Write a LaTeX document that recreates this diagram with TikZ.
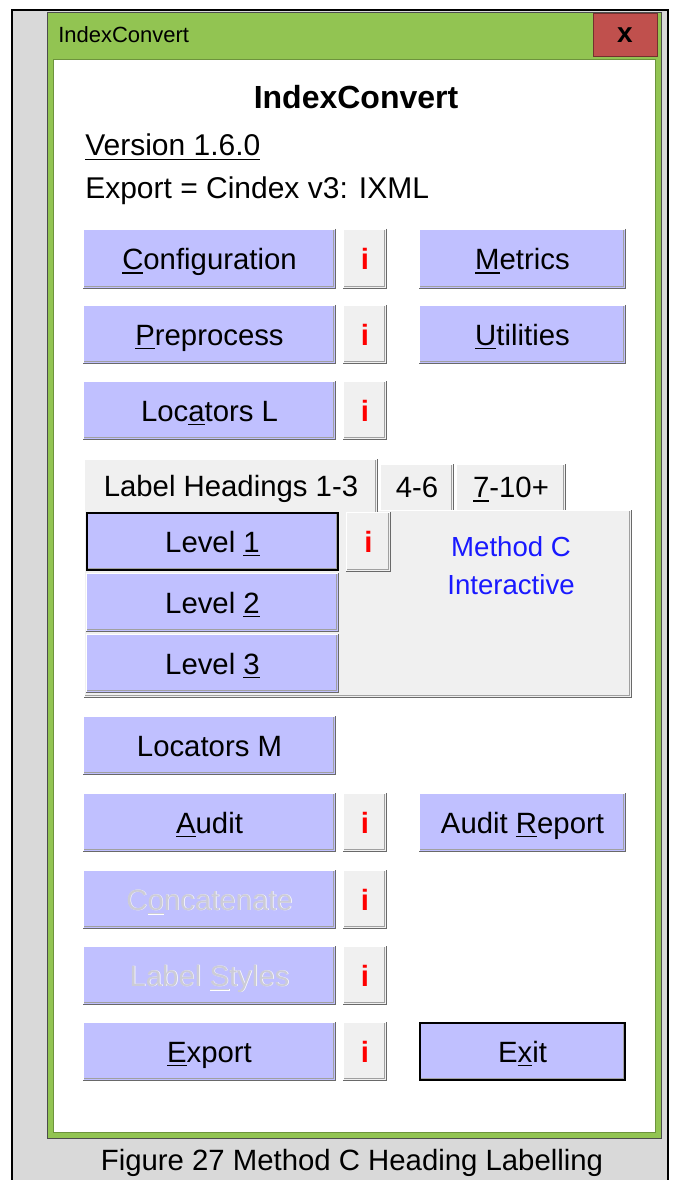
\documentclass[tikz,border=0pt]{standalone}
\usepackage{fontspec}
\setmainfont{Liberation Sans}
\definecolor{lav}{RGB}{192,192,255}
\definecolor{pan}{RGB}{240,240,240}
\definecolor{frm}{RGB}{217,217,217}
\definecolor{grn}{RGB}{146,196,82}
\definecolor{cls}{RGB}{192,80,77}
\definecolor{shd}{RGB}{105,105,105}
\definecolor{shl}{RGB}{160,160,160}
\definecolor{hil}{RGB}{255,255,255}
\definecolor{dtx}{RGB}{204,204,214}
\definecolor{mblue}{RGB}{25,25,255}
\newcommand\mn[1]{\setbox0\hbox{#1}\rlap{\rule[-3.2pt]{\wd0}{1.3pt}}#1}
\newcommand\dis[1]{\rlap{\kern0.5pt\raisebox{-0.5pt}{\color{white}#1}}{\color{dtx}#1}}
\newcommand\btnfont{\fontsize{22}{26}\selectfont}
\newcommand\bx[7]{%
 \pgfmathsetmacro\cxx{(#2+#4)/2}%
 \pgfmathsetmacro\cyy{(#3+#5)/2}%
 \pgfmathsetmacro\ww{(#4-#2)*0.75}%
 \pgfmathsetmacro\hh{(#5-#3)*0.75}%
 \node[#6,minimum width=\ww pt,minimum height=\hh pt] (#1) at (\cxx,\cyy) {#7};%
}
\newcommand\raised[1]{%
 \draw[hil,line width=0.75pt] ([shift={(0.375pt,0)}]#1.south west) -- ([shift={(0.375pt,-0.375pt)}]#1.north west) -- ([shift={(0,-0.375pt)}]#1.north east);
 \draw[shl,line width=0.75pt] ([shift={(-1.875pt,-0.75pt)}]#1.north east) -- ([shift={(-1.875pt,1.875pt)}]#1.south east) -- ([shift={(0.75pt,1.875pt)}]#1.south west);
 \draw[shd,line width=1.1pt] ([shift={(-0.55pt,0)}]#1.north east) -- ([shift={(-0.55pt,0.55pt)}]#1.south east) -- ([shift={(0,0.55pt)}]#1.south west);
}
\newcommand\defborder[1]{%
 \draw[black,line width=1.5pt] ([shift={(0.75pt,-0.75pt)}]#1.north west) rectangle ([shift={(-0.75pt,0.75pt)}]#1.south east);
}
\begin{document}
\begin{tikzpicture}[x=0.75pt,y=-0.75pt,
  btn/.style={fill=lav,inner sep=0pt,outer sep=0pt,font=\btnfont,text height=15.8pt,text depth=0pt},
  ib/.style={fill=pan,inner sep=0pt,outer sep=0pt,font=\btnfont\bfseries,text=red,text height=15.8pt,text depth=0pt},
  tabst/.style={fill=pan,inner sep=0pt,outer sep=0pt,font=\btnfont,text height=15.8pt,text depth=0pt},
  pnl/.style={fill=pan,inner sep=0pt,outer sep=0pt},
  info/.style={anchor=base west,inner sep=0pt,font=\fontsize{22.5}{27}\selectfont}]
\useasboundingbox (0,0) rectangle (677,1180);
\fill[white] (0,0) rectangle (677,1180);
\fill[frm] (12,10) rectangle (668,1180);
\draw[black,line width=1pt] (12,1180) -- (12,10) -- (668,10) -- (668,1180);
% window
\fill[grn] (47,13) rectangle (661,1138);
\draw[black!70,line width=0.75pt] (47,13) rectangle (661,1138);
\fill[white] (53,59) rectangle (655,1132);
\draw[grn!75!black,line width=0.6pt] (53,59) rectangle (655,1132);
\bx{closeb}{593}{14}{657}{57}{fill=cls,draw=cls!60!black,line width=0.75pt,inner sep=0pt,font=\fontsize{21}{24}\selectfont\bfseries}{x}
\node[anchor=west,inner sep=0pt,font=\fontsize{16.5}{20}\selectfont] (wtitle) at (58,35) {IndexConvert};
% header texts
\node[inner sep=0pt,font=\fontsize{24}{28}\selectfont\bfseries] (head) at (356,97) {IndexConvert};
\node[info] (ver) at (85,156) {\mn{Version 1.6.0}};
\node[info] (expl) at (85,199) {Export = Cindex v3: IXML};
% buttons
\bx{cfg}{83}{229}{336}{289}{btn}{\mn{C}onfiguration}
\bx{i1}{343}{229}{387}{289}{ib}{i}
\bx{met}{419}{229}{626}{289}{btn}{\mn{M}etrics}
\bx{pre}{83}{305}{336}{364}{btn}{\mn{P}reprocess}
\bx{i2}{343}{305}{387}{364}{ib}{i}
\bx{uti}{419}{305}{626}{364}{btn}{\mn{U}tilities}
\bx{locl}{83}{381}{336}{440}{btn}{Loc\mn{a}tors L}
\bx{i3}{343}{381}{387}{440}{ib}{i}
% tab panel
\bx{panel}{84}{510}{632}{698}{pnl}{}
\raised{panel}
\bx{tab1}{84}{459}{378}{512}{tabst}{Label Headings 1-3}
\bx{tab2}{380}{464}{454}{510}{tabst}{4-6}
\bx{tab3}{456}{464}{566}{510}{tabst}{\mn{7}-10+}
\foreach \t in {tab1,tab2,tab3}{
  \draw[hil,line width=0.75pt] (\t.south west) -- (\t.north west) -- (\t.north east);
  \draw[shl,line width=0.75pt] ([shift={(-1.875pt,-0.75pt)}]\t.north east) -- ([shift={(-1.875pt,0)}]\t.south east);
  \draw[shd,line width=1.1pt] ([shift={(-0.55pt,0)}]\t.north east) -- ([shift={(-0.55pt,0)}]\t.south east);
}
\bx{lv1}{86}{512}{339}{571}{btn}{Level \mn{1}}
\bx{lv2}{86}{573}{339}{632}{btn}{Level \mn{2}}
\bx{lv3}{86}{634}{339}{693}{btn}{Level \mn{3}}
\bx{i4}{346}{512}{391}{572}{ib}{i}
\node[inner sep=0pt,align=center,text=mblue,font=\fontsize{20.7}{28.5}\selectfont] (meth) at (511,566) {Method C\\Interactive};
% lower buttons
\bx{locm}{83}{716}{336}{775}{btn}{Locators M}
\bx{aud}{83}{793}{336}{852}{btn}{\mn{A}udit}
\bx{i5}{343}{793}{387}{852}{ib}{i}
\bx{audr}{419}{793}{626}{852}{btn}{Audit \mn{R}eport}
\bx{conc}{83}{870}{336}{929}{btn}{\dis{C\mn{o}ncatenate}}
\bx{i6}{343}{870}{387}{929}{ib}{i}
\bx{lsty}{83}{946}{336}{1005}{btn}{\dis{Label \mn{S}tyles}}
\bx{i7}{343}{946}{387}{1005}{ib}{i}
\bx{expb}{83}{1022}{336}{1081}{btn}{\mn{E}xport}
\bx{i8}{343}{1022}{387}{1081}{ib}{i}
\bx{exitb}{419}{1022}{626}{1081}{btn}{E\mn{x}it}
\foreach \n in {cfg,i1,met,pre,i2,uti,locl,i3,lv1,lv2,lv3,i4,locm,aud,i5,audr,conc,i6,lsty,i7,expb,i8,exitb}{\raised{\n}}
\defborder{lv1}
\defborder{exitb}
% caption
\node[inner sep=0pt,font=\fontsize{22}{26}\selectfont] (cap) at (352,1163) {Figure 27 Method C Heading Labelling};
\end{tikzpicture}
\end{document}
